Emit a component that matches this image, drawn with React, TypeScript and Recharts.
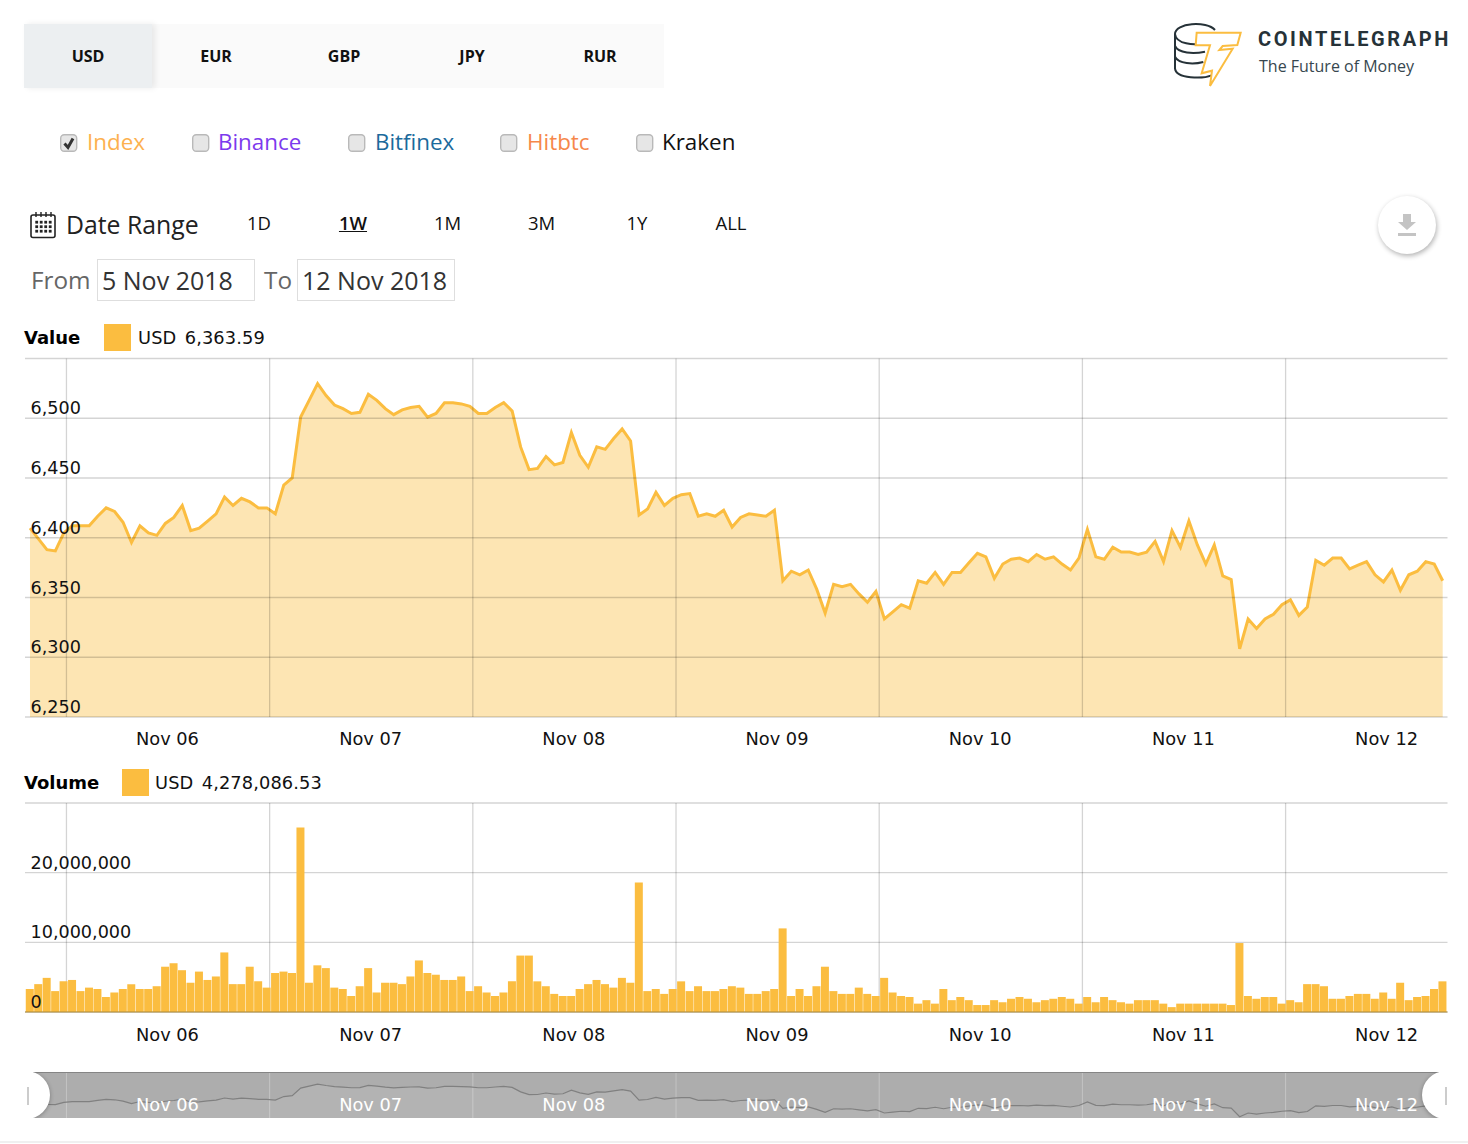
import React from "react";
import { AreaChart, Area, BarChart, Bar, XAxis, YAxis, CartesianGrid } from "recharts";

const currencies = ["USD", "EUR", "GBP", "JPY", "RUR"];
const exchanges = ["Index", "Binance", "Bitfinex", "Hitbtc", "Kraken"];
const ranges = ["1D", "1W", "1M", "3M", "1Y", "ALL"];
const dayLabels = ["Nov 06", "Nov 07", "Nov 08", "Nov 09", "Nov 10", "Nov 11", "Nov 12"];
const dayTicks = [4.31, 28.33, 52.35, 76.37, 100.39, 124.41, 148.43];
const valueTicks = [6250, 6300, 6350, 6400, 6450, 6500, 6550];
const volumeTicks = [0, 10000000, 20000000, 30000000];

const prices = [
  6408, 6399, 6390, 6389, 6404, 6410, 6410, 6410, 6418, 6425, 6422, 6413, 6396, 6410, 6404, 6402, 6412, 6417, 6427, 6406, 6408, 6414, 6420, 6434,
  6427, 6433, 6430, 6425, 6425, 6420, 6444, 6450, 6501, 6515, 6529, 6519, 6511, 6508, 6504, 6505, 6520, 6515, 6508, 6503, 6507, 6509, 6510, 6501,
  6504, 6513, 6513, 6512, 6510, 6504, 6504, 6509, 6513, 6506, 6476, 6457, 6458, 6468, 6461, 6463, 6488, 6469, 6459, 6476, 6474, 6483, 6491, 6481,
  6419, 6424, 6438, 6427, 6433, 6436, 6437, 6418, 6420, 6418, 6423, 6409, 6417, 6420, 6419, 6418, 6423, 6364, 6372, 6369, 6373, 6357, 6337, 6361,
  6359, 6361, 6353, 6346, 6355, 6332, 6338, 6344, 6341, 6364, 6362, 6371, 6361, 6371, 6371, 6379, 6387, 6384, 6366, 6378, 6382, 6383, 6380, 6386,
  6382, 6384, 6378, 6373, 6383, 6407, 6384, 6382, 6392, 6388, 6388, 6386, 6388, 6397, 6380, 6406, 6392, 6414, 6394, 6378, 6394, 6368, 6365, 6307,
  6332, 6324, 6332, 6336, 6344, 6348, 6335, 6342, 6381, 6377, 6383, 6383, 6374, 6377, 6380, 6369, 6363, 6373, 6356, 6369, 6372, 6380, 6378, 6364,
];

const volumesInMillions = [
  3.3, 4.0, 4.9, 3.0, 4.4, 4.6, 3.0, 3.5, 3.3, 2.15, 2.8, 3.3, 4.0, 3.3, 3.3, 3.7, 6.5, 7.0, 6.0, 4.2, 5.8, 4.6, 5.1, 8.55,
  4.0, 4.0, 6.5, 4.4, 3.5, 5.6, 5.8, 5.6, 26.5, 4.2, 6.7, 6.3, 3.5, 3.3, 2.3, 3.7, 6.3, 2.8, 4.2, 4.2, 4.0, 5.1, 7.4, 5.6,
  5.35, 4.6, 4.6, 5.1, 3.0, 3.7, 2.8, 2.3, 2.8, 4.4, 8.1, 8.1, 4.4, 3.7, 2.6, 2.3, 2.3, 3.3, 4.0, 4.6, 4.0, 3.5, 4.9, 4.2,
  18.6, 3.0, 3.3, 2.6, 3.3, 4.4, 3.0, 3.7, 3.0, 3.0, 3.3, 3.7, 3.5, 2.6, 2.6, 3.0, 3.3, 12.0, 2.3, 3.3, 2.3, 3.7, 6.5, 3.0,
  2.6, 2.6, 3.5, 2.6, 2.3, 4.9, 2.8, 2.3, 2.15, 1.2, 1.7, 1.2, 3.3, 1.7, 2.15, 1.7, 1.0, 1.0, 1.7, 1.4, 1.9, 2.15, 1.9, 1.4,
  1.7, 1.9, 2.15, 1.9, 1.2, 2.15, 1.4, 2.15, 1.7, 1.4, 1.2, 1.7, 1.7, 1.7, 1.2, 0.7, 1.2, 1.2, 1.2, 1.2, 1.2, 1.2, 1.0, 9.9,
  2.3, 1.9, 2.15, 2.15, 1.2, 1.7, 1.4, 4.0, 4.0, 3.7, 1.9, 1.9, 2.3, 2.6, 2.6, 1.9, 2.8, 1.9, 4.2, 1.7, 2.15, 2.3, 3.3, 4.4,
];

const rows = prices.map((price, hour) => ({ hour, price, volume: volumesInMillions[hour] * 1000000 }));

const GOLD = "#fbbd40";
const GRID = "rgba(0,0,0,0.17)";
const CHART_FONT = "'DejaVu Sans', Verdana, sans-serif";
const UI_FONT = "'Open Sans', sans-serif";
const X_DOMAIN: [number, number] = [-0.59, 167.57];
const PLOT_MARGIN = { left: 24, right: 20.5 };
const LABEL_SHIFT = 101;

const fmt = (v: number) => v.toLocaleString("en-US");

const DayTick = ({ x, y, index, color, dyText }: any) => (
  <text x={x + LABEL_SHIFT} y={y + dyText} textAnchor="middle" fill={color} fontFamily={CHART_FONT} fontSize={17.8}>
    {dayLabels[index]}
  </text>
);

const LevelTick = ({ y, payload, hideAbove }: any) =>
  payload.value >= hideAbove ? null : (
    <text x={30.5} y={y - 4} textAnchor="start" fill="#111" fontFamily={CHART_FONT} fontSize={17.6}>
      {fmt(payload.value)}
    </text>
  );

const abs = (left: number, top: number, extra: React.CSSProperties = {}): React.CSSProperties => ({
  position: "absolute",
  left,
  top,
  ...extra,
});

const Checkbox = ({ left, checked }: { left: number; checked: boolean }) => (
  <svg style={abs(left, 134)} width={18} height={19} viewBox="0 0 18 19">
    <rect x={0.7} y={0.7} width={16} height={16.5} rx={3.5} fill="#e6e6e6" stroke="#b9b9b9" strokeWidth={1.4} />
    {checked && <path d="M4.5 9.5 L8 13.5 L13 4.5" fill="none" stroke="#333" strokeWidth={3} />}
  </svg>
);

const exchangeStyles = [
  { box: 60, text: 87, color: "#fdb14f" },
  { box: 192, text: 218, color: "#7c3aed" },
  { box: 348, text: 375, color: "#1b6a9c" },
  { box: 500, text: 527, color: "#f6874a" },
  { box: 636, text: 662, color: "#111111" },
];
const rangeCenters = [259, 353, 447.5, 541.5, 637, 731];

const Header = () => (
  <>
    <div style={abs(24, 24, { width: 640, height: 64, background: "#fafafa" })} />
    <div style={abs(24, 24, { width: 128, height: 64, background: "#eceff1", boxShadow: "3px 0 6px rgba(0,0,0,0.08)" })} />
    {currencies.map((c, i) => (
      <div
        key={c}
        style={abs(24 + i * 128, 24, {
          width: 128,
          height: 64,
          lineHeight: "64px",
          textAlign: "center",
          fontFamily: UI_FONT,
          fontWeight: 700,
          fontSize: 16,
          color: "#111",
        })}
      >
        {c}
      </div>
    ))}
    {exchanges.map((name, i) => (
      <React.Fragment key={name}>
        <Checkbox left={exchangeStyles[i].box} checked={i === 0} />
        <div style={abs(exchangeStyles[i].text, 125, { fontFamily: UI_FONT, fontSize: 22.4, lineHeight: "34px", color: exchangeStyles[i].color })}>
          {name}
        </div>
      </React.Fragment>
    ))}
    <svg style={abs(30, 211)} width={26} height={28} viewBox="0 0 26 28">
      <rect x={1} y={4} width={24} height={22.5} rx={2} fill="none" stroke="#222" strokeWidth={1.6} />
      {[7, 12, 17, 22].map((x) => (
        <line key={x} x1={x - 1} x2={x - 1} y1={1} y2={6} stroke="#222" strokeWidth={1.4} />
      ))}
      {[11, 15.5, 20].map((y) =>
        [6.5, 11, 15.5, 20].map((x) => <rect key={`${x}-${y}`} x={x - 1.2} y={y - 1.2} width={2.8} height={2.8} fill="#222" />)
      )}
    </svg>
    <div style={abs(66, 207, { fontFamily: UI_FONT, fontSize: 24.8, lineHeight: "34px", color: "#222" })}>Date Range</div>
    {ranges.map((r, i) => (
      <div
        key={r}
        style={abs(rangeCenters[i] - 30, 209, {
          width: 60,
          textAlign: "center",
          fontFamily: UI_FONT,
          fontSize: 18.5,
          lineHeight: "27px",
          color: "#111",
          fontWeight: r === "1W" ? 600 : 400,
          textDecoration: r === "1W" ? "underline" : "none",
        })}
      >
        {r}
      </div>
    ))}
    <div style={abs(31, 262, { fontFamily: UI_FONT, fontSize: 24.3, lineHeight: "36px", color: "#666" })}>From</div>
    <div style={abs(97, 259, { width: 156, height: 40, border: "1px solid #dedede" })} />
    <div style={abs(102, 262, { fontFamily: UI_FONT, fontSize: 25, lineHeight: "36px", color: "#333" })}>5 Nov 2018</div>
    <div style={abs(264, 262, { fontFamily: UI_FONT, fontSize: 24.3, lineHeight: "36px", color: "#666" })}>To</div>
    <div style={abs(297, 259, { width: 156, height: 40, border: "1px solid #dedede" })} />
    <div style={abs(302, 262, { fontFamily: UI_FONT, fontSize: 25, lineHeight: "36px", color: "#333" })}>12 Nov 2018</div>

    <svg style={abs(1150, 0)} width={318} height={90} viewBox="0 0 954 270">
      <g fill="none" stroke="#263238" strokeWidth={6}>
        <path d="M195 90 C170 62 75 68 75 102 L75 205 C78 238 160 236 185 226" />
        <path d="M75 102 C78 132 130 138 170 128" />
        <path d="M75 138 C85 160 130 162 165 155" />
        <path d="M75 170 C85 192 130 194 160 186" />
      </g>
      <path
        d="M140 98 L272 98 L262 135 L218 138 L208 150 L248 146 L180 258 L186 212 L155 220 L180 136 L137 136 Z"
        fill="#fff"
        stroke={GOLD}
        strokeWidth={6}
      />
    </svg>
    <div style={abs(1258, 26, { fontFamily: "Roboto, sans-serif", fontWeight: 700, fontSize: 20, lineHeight: "26px", letterSpacing: 2.6, color: "#263238" })}>
      COINTELEGRAPH
    </div>
    <div style={abs(1259, 54, { fontFamily: UI_FONT, fontSize: 16, lineHeight: "24px", color: "#37474f" })}>The Future of Money</div>

    <div style={abs(1378, 196, { width: 58, height: 58, borderRadius: 29, background: "#fff", boxShadow: "1px 2px 5px rgba(0,0,0,0.3)" })} />
    <svg style={abs(1397, 213)} width={20} height={24} viewBox="0 0 20 24">
      <path d="M6 1 H14 V9 H19 L10 17 L1 9 H6 Z" fill="#c4c4c4" />
      <rect x={1} y={20} width={18} height={3} fill="#c4c4c4" />
    </svg>
  </>
);

const Legend = ({ title, swatchLeft, textLeft, top, amount }: any) => (
  <>
    <div style={abs(24, top + 1, { fontFamily: CHART_FONT, fontWeight: 700, fontSize: 18, lineHeight: "26px", color: "#000" })}>{title}</div>
    <div style={abs(swatchLeft, top, { width: 27, height: 27, background: GOLD })} />
    <div style={abs(textLeft, top + 1, { fontFamily: CHART_FONT, fontSize: 17.8, lineHeight: "26px", color: "#111", whiteSpace: "pre", wordSpacing: 2.6, letterSpacing: 0.12 })}>
      {amount}
    </div>
  </>
);

const ValueChart = () => (
  <div style={abs(0, 340)}>
    <AreaChart width={1468} height={420} data={rows} margin={{ ...PLOT_MARGIN, top: 18.5, bottom: 0 }}>
      <XAxis
        dataKey="hour"
        type="number"
        domain={X_DOMAIN}
        ticks={dayTicks}
        interval={0}
        height={43}
        axisLine={false}
        tickLine={false}
        tick={<DayTick color="#111" dyText={20} />}
      />
      <YAxis
        domain={[6250, 6550]}
        ticks={valueTicks}
        interval={0}
        width={1}
        axisLine={false}
        tickLine={false}
        tick={<LevelTick hideAbove={6550} />}
      />
      <Area type="linear" dataKey="price" stroke={GOLD} strokeWidth={3} fill={GOLD} fillOpacity={0.4} dot={false} isAnimationActive={false} />
      <CartesianGrid stroke={GRID} strokeWidth={1.3} syncWithTicks zIndex={300} />
    </AreaChart>
  </div>
);

const VolumeChart = () => (
  <div style={abs(0, 785)}>
    <BarChart width={1468} height={270} data={rows} margin={{ ...PLOT_MARGIN, top: 18, bottom: 0 }}>
      <CartesianGrid stroke={GRID} strokeWidth={1.3} syncWithTicks />
      <XAxis
        dataKey="hour"
        type="number"
        domain={X_DOMAIN}
        ticks={dayTicks}
        interval={0}
        height={43}
        axisLine={{ stroke: "#a98a3c", strokeWidth: 1.2 }}
        tickLine={false}
        tick={<DayTick color="#111" dyText={21} />}
      />
      <YAxis
        domain={[0, 30000000]}
        ticks={volumeTicks}
        interval={0}
        width={1}
        axisLine={false}
        tickLine={false}
        tick={<LevelTick hideAbove={30000000} />}
      />
      <Bar dataKey="volume" fill={GOLD} barSize={8} isAnimationActive={false} />
    </BarChart>
  </div>
);

const NavigatorChart = () => (
  <div style={abs(25, 1072, { width: 1422.5, height: 46, overflow: "hidden", background: "#adadad" })}>
    <div style={abs(-25, 0)}>
      <AreaChart width={1468} height={47} data={rows} margin={{ left: 25, right: 20.5, top: 0, bottom: 0 }}>
        <CartesianGrid stroke="#c4c4c4" strokeWidth={1} horizontal={false} syncWithTicks />
        <XAxis
          dataKey="hour"
          type="number"
          domain={X_DOMAIN}
          ticks={dayTicks}
          interval={0}
          height={1}
          axisLine={false}
          tickLine={false}
          tick={<DayTick color="#ffffff" dyText={-15} />}
        />
        <YAxis domain={[6298, 6611]} width={1} hide />
        <Area type="linear" dataKey="price" stroke="#808080" strokeWidth={1.2} fill="#ffffff" fillOpacity={0.08} dot={false} isAnimationActive={false} />
      </AreaChart>
    </div>
    <div style={abs(0, 0, { width: 1423, height: 1, background: "#858585" })} />
  </div>
);

const Handles = () => (
  <div style={abs(25, 1072, { width: 1423, height: 46, overflow: "hidden" })}>
    <div style={abs(-23, -1, { width: 48, height: 48, borderRadius: 24, background: "#fff", boxShadow: "0 1px 4px rgba(0,0,0,0.3)" })} />
    <div style={abs(2, 15, { width: 2, height: 18, background: "#ccc" })} />
    <div style={abs(1397, -1, { width: 48, height: 48, borderRadius: 24, background: "#fff", boxShadow: "0 1px 4px rgba(0,0,0,0.3)" })} />
    <div style={abs(1420, 15, { width: 2, height: 18, background: "#ccc" })} />
  </div>
);

export default function App() {
  return (
    <div style={abs(0, 0, { width: 1468, height: 1144, background: "#fff", overflow: "hidden" })}>
      <Header />
      <Legend title="Value" swatchLeft={104} textLeft={138} top={324} amount="USD 6,363.59" />
      <ValueChart />
      <Legend title="Volume" swatchLeft={122} textLeft={155} top={769} amount="USD 4,278,086.53" />
      <VolumeChart />
      <NavigatorChart />
      <Handles />
      <div style={abs(0, 1141, { width: 1468, height: 2, background: "#f0f0f0" })} />
    </div>
  );
}
